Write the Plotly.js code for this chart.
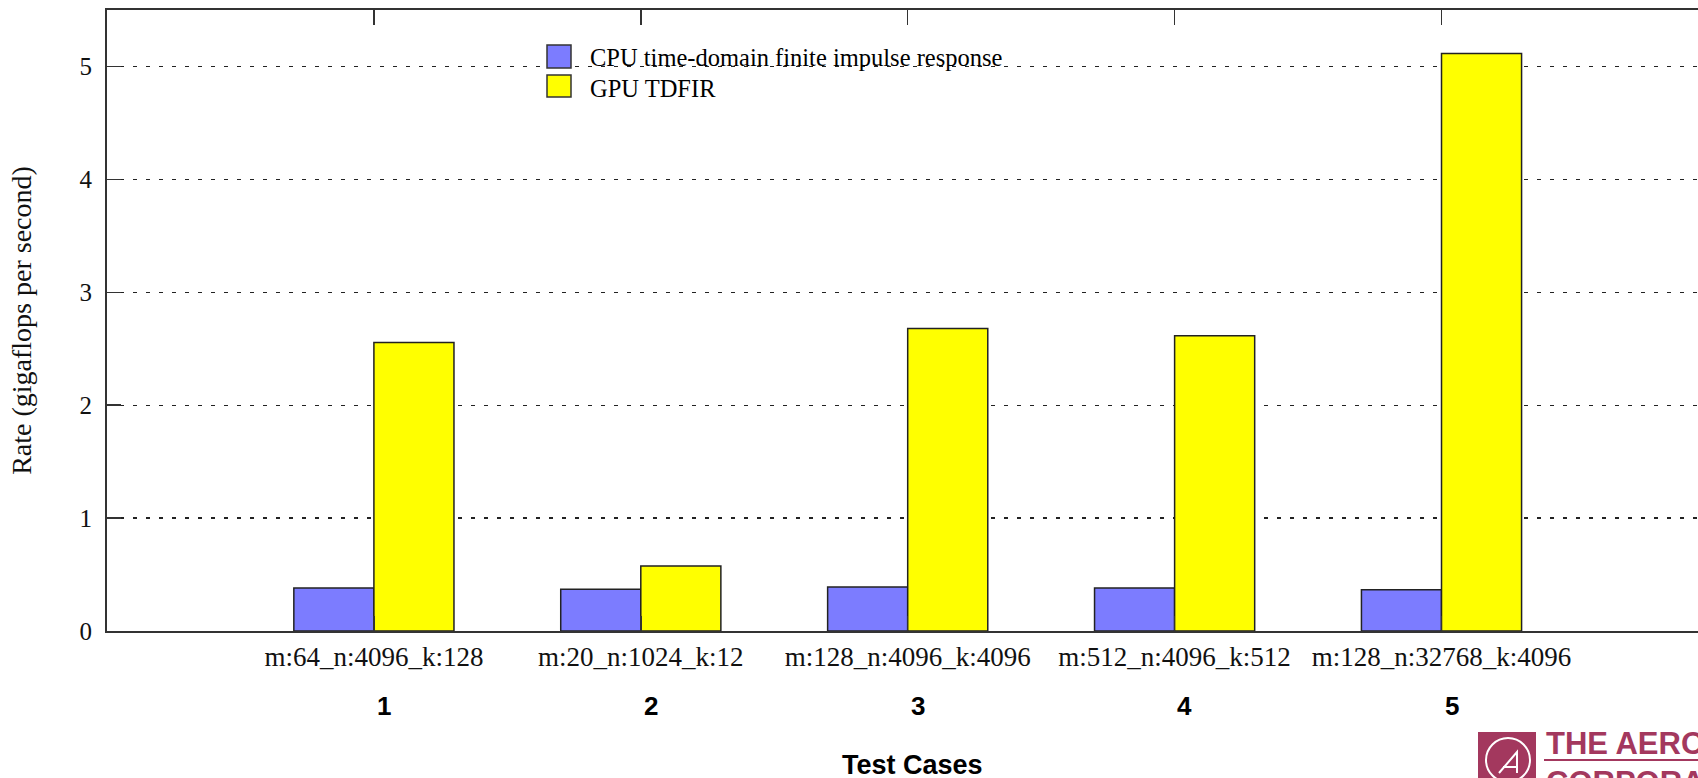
<!DOCTYPE html>
<html>
<head>
<meta charset="utf-8">
<script src="https://cdn.plot.ly/plotly-3.0.1.min.js"></script>
<style>
  html, body { margin: 0; padding: 0; background: #fff; overflow: hidden; }
  #chart { width: 1698px; height: 778px; }
</style>
</head>
<body>
<div id="chart"></div>
<script>
// ---- data ----
const caseIndex   = [1, 2, 3, 4, 5];
const caseNumbers = ["1", "2", "3", "4", "5"];
const categories  = ["m:64_n:4096_k:128", "m:20_n:1024_k:12", "m:128_n:4096_k:4096", "m:512_n:4096_k:512", "m:128_n:32768_k:4096"];
const cpuRate     = [0.38, 0.37, 0.39, 0.38, 0.365];
const gpuRate     = [2.555, 0.575, 2.68, 2.615, 5.115];
const seriesNames = ["CPU time-domain finite impulse response", "GPU TDFIR"];
const yTicks      = [0, 1, 2, 3, 4, 5];

// ---- styling ----
const serif = "Liberation Serif, Times New Roman, serif";
const sans  = "Liberation Sans, Arial, sans-serif";
const blue = "#7c7cff", yellow = "#ffff00", maroon = "#a3385e";

const traces = [
  { type: "bar", name: seriesNames[0], x: caseIndex, y: cpuRate,
    marker: { color: blue, line: { color: "#222", width: 1.5 } }, showlegend: false, hoverinfo: "none" },
  { type: "bar", name: seriesNames[1], x: caseIndex, y: gpuRate,
    marker: { color: yellow, line: { color: "#222", width: 1.5 } }, showlegend: false, hoverinfo: "none" }
];

// pixel helpers for paper coordinates (plot area: l=107, t=10, w=1591, h=621)
const L = 107, T = 10, W = 1591, H = 621;
const px = v => (v - L) / W;
const py = v => (T + H - v) / H;

const annotations = [];
caseIndex.forEach((c, i) => annotations.push({
  xref: "x", yref: "paper", x: c, y: py(706), xshift: 10, showarrow: false,
  xanchor: "center", yanchor: "middle", text: caseNumbers[i],
  font: { family: sans, size: 26, color: "#000", weight: "bold" }
}));
annotations.push({ xref: "x", yref: "paper", x: 3, y: py(765), xshift: 5, showarrow: false,
  xanchor: "center", yanchor: "middle", text: "<b>Test Cases</b>",
  font: { family: sans, size: 27, color: "#000" } });
// legend text
annotations.push({ xref: "paper", yref: "paper", x: px(588), y: py(57), showarrow: false,
  xanchor: "left", yanchor: "middle", text: seriesNames[0], font: { family: serif, size: 24.5, color: "#000" } });
annotations.push({ xref: "paper", yref: "paper", x: px(588), y: py(88), showarrow: false,
  xanchor: "left", yanchor: "middle", text: seriesNames[1], font: { family: serif, size: 24.5, color: "#000" } });
// logo text
annotations.push({ xref: "paper", yref: "paper", x: px(1544), y: py(743), showarrow: false,
  xanchor: "left", yanchor: "middle", text: "<b>THE AEROSPACE</b>", font: { family: sans, size: 31, color: maroon } });
annotations.push({ xref: "paper", yref: "paper", x: px(1544), y: py(782), showarrow: false,
  xanchor: "left", yanchor: "middle", text: "<b>CORPORATION</b>", font: { family: sans, size: 31, color: maroon } });

const shapes = [
  // legend swatches
  { type: "rect", xref: "paper", yref: "paper", x0: px(547), x1: px(571), y0: py(68), y1: py(45),
    fillcolor: blue, line: { color: "#333", width: 1.5 } },
  { type: "rect", xref: "paper", yref: "paper", x0: px(547), x1: px(571), y0: py(97), y1: py(75),
    fillcolor: yellow, line: { color: "#333", width: 1.5 } },
  // logo
  { type: "rect", xref: "paper", yref: "paper", x0: px(1478), x1: px(1536), y0: py(790), y1: py(732),
    fillcolor: maroon, line: { width: 0 } },
  { type: "circle", xref: "paper", yref: "paper", x0: px(1486), x1: px(1530), y0: py(782), y1: py(738),
    line: { color: "#fff", width: 2 } },
  { type: "path", xref: "paper", yref: "paper",
    path: `M${px(1499)},${py(773)} L${px(1517)},${py(752)} L${px(1517)},${py(773)} M${px(1503)},${py(767)} L${px(1517)},${py(767)}`,
    line: { color: "#fff", width: 2 } },
  { type: "line", xref: "paper", yref: "paper", x0: px(1544), x1: px(1700), y0: py(760), y1: py(760),
    line: { color: maroon, width: 2 } }
];

const layout = {
  width: 1698, height: 778,
  margin: { l: L, r: 0, t: T, b: 778 - T - H, pad: 0 },
  paper_bgcolor: "#fff", plot_bgcolor: "#fff",
  barmode: "group", bargap: 0.4, bargroupgap: 0,
  showlegend: false,
  xaxis: {
    range: [0, (1698 - L) / (W / 5.961) ], // plot ends at page edge
    tickmode: "array", tickvals: caseIndex, ticktext: categories,
    ticks: "inside", ticklen: 15, tickwidth: 1.5, tickcolor: "#333",
    showline: true, linecolor: "#333", linewidth: 2, mirror: "ticks",
    showgrid: false, zeroline: false, automargin: false,
    ticklabelstandoff: 1,
    tickfont: { family: serif, size: 27, color: "#111" }
  },
  yaxis: {
    range: [0, 5.5],
    tickmode: "array", tickvals: yTicks,
    ticks: "inside", ticklen: 14, tickwidth: 1.5, tickcolor: "#333",
    showline: true, linecolor: "#333", linewidth: 2, mirror: false,
    showgrid: true, gridcolor: "#222", gridwidth: 1.2, griddash: "4px,9px",
    zeroline: false, automargin: false,
    ticklabelstandoff: 8,
    tickfont: { family: serif, size: 25, color: "#111" },
    title: { text: "Rate (gigaflops per second)", standoff: 40,
             font: { family: serif, size: 28, color: "#111" } }
  },
  annotations: annotations,
  shapes: shapes
};

Plotly.newPlot("chart", traces, layout, { displayModeBar: false, staticPlot: true });
</script>
</body>
</html>
